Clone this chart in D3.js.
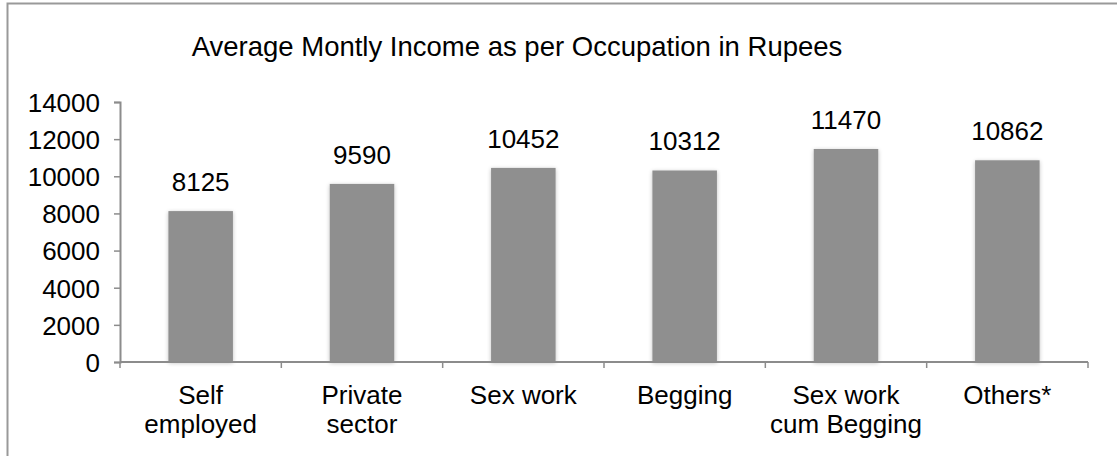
<!DOCTYPE html>
<html>
<head>
<meta charset="utf-8">
<script src="https://cdn.jsdelivr.net/npm/d3@7"></script>
<style>
  html, body { margin: 0; padding: 0; background: #fff; }
  svg { display: block; font-family: "Liberation Sans", Arial, Helvetica, sans-serif; }
</style>
</head>
<body>
<svg id="chart" width="1117" height="456"></svg>
<script>
const categories = [["Self", "employed"], ["Private", "sector"], ["Sex work"], ["Begging"], ["Sex work", "cum Begging"], ["Others*"]];
const values = [8125, 9590, 10452, 10312, 11470, 10862];
const yTicks = [0, 2000, 4000, 6000, 8000, 10000, 12000, 14000];
const title = "Average Montly Income as per Occupation in Rupees";

(function () {
const svg = d3.select("#chart");
const mL = 120, mR = 1088, mT = 102, mB = 362;
const FS = 26;

// outer frame
svg.append("rect").attr("x", 7.5).attr("y", 3.5).attr("width", 1120).attr("height", 470)
  .attr("fill", "none").attr("stroke", "#999").attr("stroke-width", 2);

const defs = svg.append("defs");
const f = defs.append("filter").attr("id", "shadow").attr("x", "-20%").attr("y", "-5%").attr("width", "140%").attr("height", "110%");
f.append("feGaussianBlur").attr("in", "SourceAlpha").attr("stdDeviation", 2).attr("result", "b");
f.append("feOffset").attr("in", "b").attr("dx", 0).attr("dy", 1).attr("result", "o");
f.append("feComponentTransfer").attr("in", "o").attr("result", "s")
  .append("feFuncA").attr("type", "linear").attr("slope", 0.25);
const m = f.append("feMerge");
m.append("feMergeNode").attr("in", "s");
m.append("feMergeNode").attr("in", "SourceGraphic");

const idx = d3.range(values.length);
const x = d3.scaleBand().domain(idx).range([mL, mR]).paddingInner(0.6).paddingOuter(0.3);
const xOuter = d3.scaleBand().domain(idx).range([mL, mR]);
const y = d3.scaleLinear().domain([0, 14000]).range([mB, mT]);

// title
svg.append("text").attr("x", 517).attr("y", 56).attr("text-anchor", "middle")
  .attr("font-size", 27.5).attr("fill", "#000").text(title);

// bars
svg.append("g").selectAll("rect").data(idx).join("rect")
  .attr("x", i => x(i)).attr("y", i => y(values[i]))
  .attr("width", x.bandwidth()).attr("height", i => y(0) - y(values[i]))
  .attr("fill", "#8f8f8f").attr("filter", "url(#shadow)");

// value labels
svg.append("g").selectAll("text").data(idx).join("text")
  .attr("x", i => x(i) + x.bandwidth() / 2).attr("y", i => y(values[i]) - 20)
  .attr("text-anchor", "middle").attr("font-size", FS).attr("fill", "#000")
  .text(i => values[i]);

// y axis
const yAxis = svg.append("g").attr("transform", `translate(${mL},0)`)
  .call(d3.axisLeft(y).tickValues(yTicks).tickSize(6).tickPadding(14).tickFormat(d3.format("d")));
yAxis.select(".domain").attr("stroke", "#8c8c8c").attr("stroke-width", 2);
yAxis.selectAll(".tick line").attr("stroke", "#8c8c8c").attr("stroke-width", 1.5);
yAxis.selectAll(".tick text").attr("font-size", FS).attr("fill", "#000")
  .attr("font-family", "Liberation Sans, Arial, sans-serif").attr("dy", "0.36em");

// x axis
const xAxisG = svg.append("g").attr("transform", `translate(0,${mB})`);
xAxisG.append("line").attr("x1", mL).attr("x2", mR).attr("y1", 0).attr("y2", 0)
  .attr("stroke", "#8c8c8c").attr("stroke-width", 2);
const tickPos = d3.range(values.length + 1).map(i => i < values.length ? xOuter(i) : mR);
xAxisG.selectAll("line.t").data(tickPos).join("line").attr("class", "t")
  .attr("x1", d => d).attr("x2", d => d).attr("y1", 0).attr("y2", 6)
  .attr("stroke", "#8c8c8c").attr("stroke-width", 1.5);

const lab = svg.append("g").selectAll("text").data(idx).join("text")
  .attr("text-anchor", "middle").attr("font-size", FS).attr("fill", "#000");
lab.each(function(i) {
  const t = d3.select(this);
  categories[i].forEach((ln, k) => {
    t.append("tspan").attr("x", xOuter(i) + xOuter.bandwidth() / 2)
      .attr("y", 404 + k * 29).text(ln);
  });
});
})();
</script>
</body>
</html>
